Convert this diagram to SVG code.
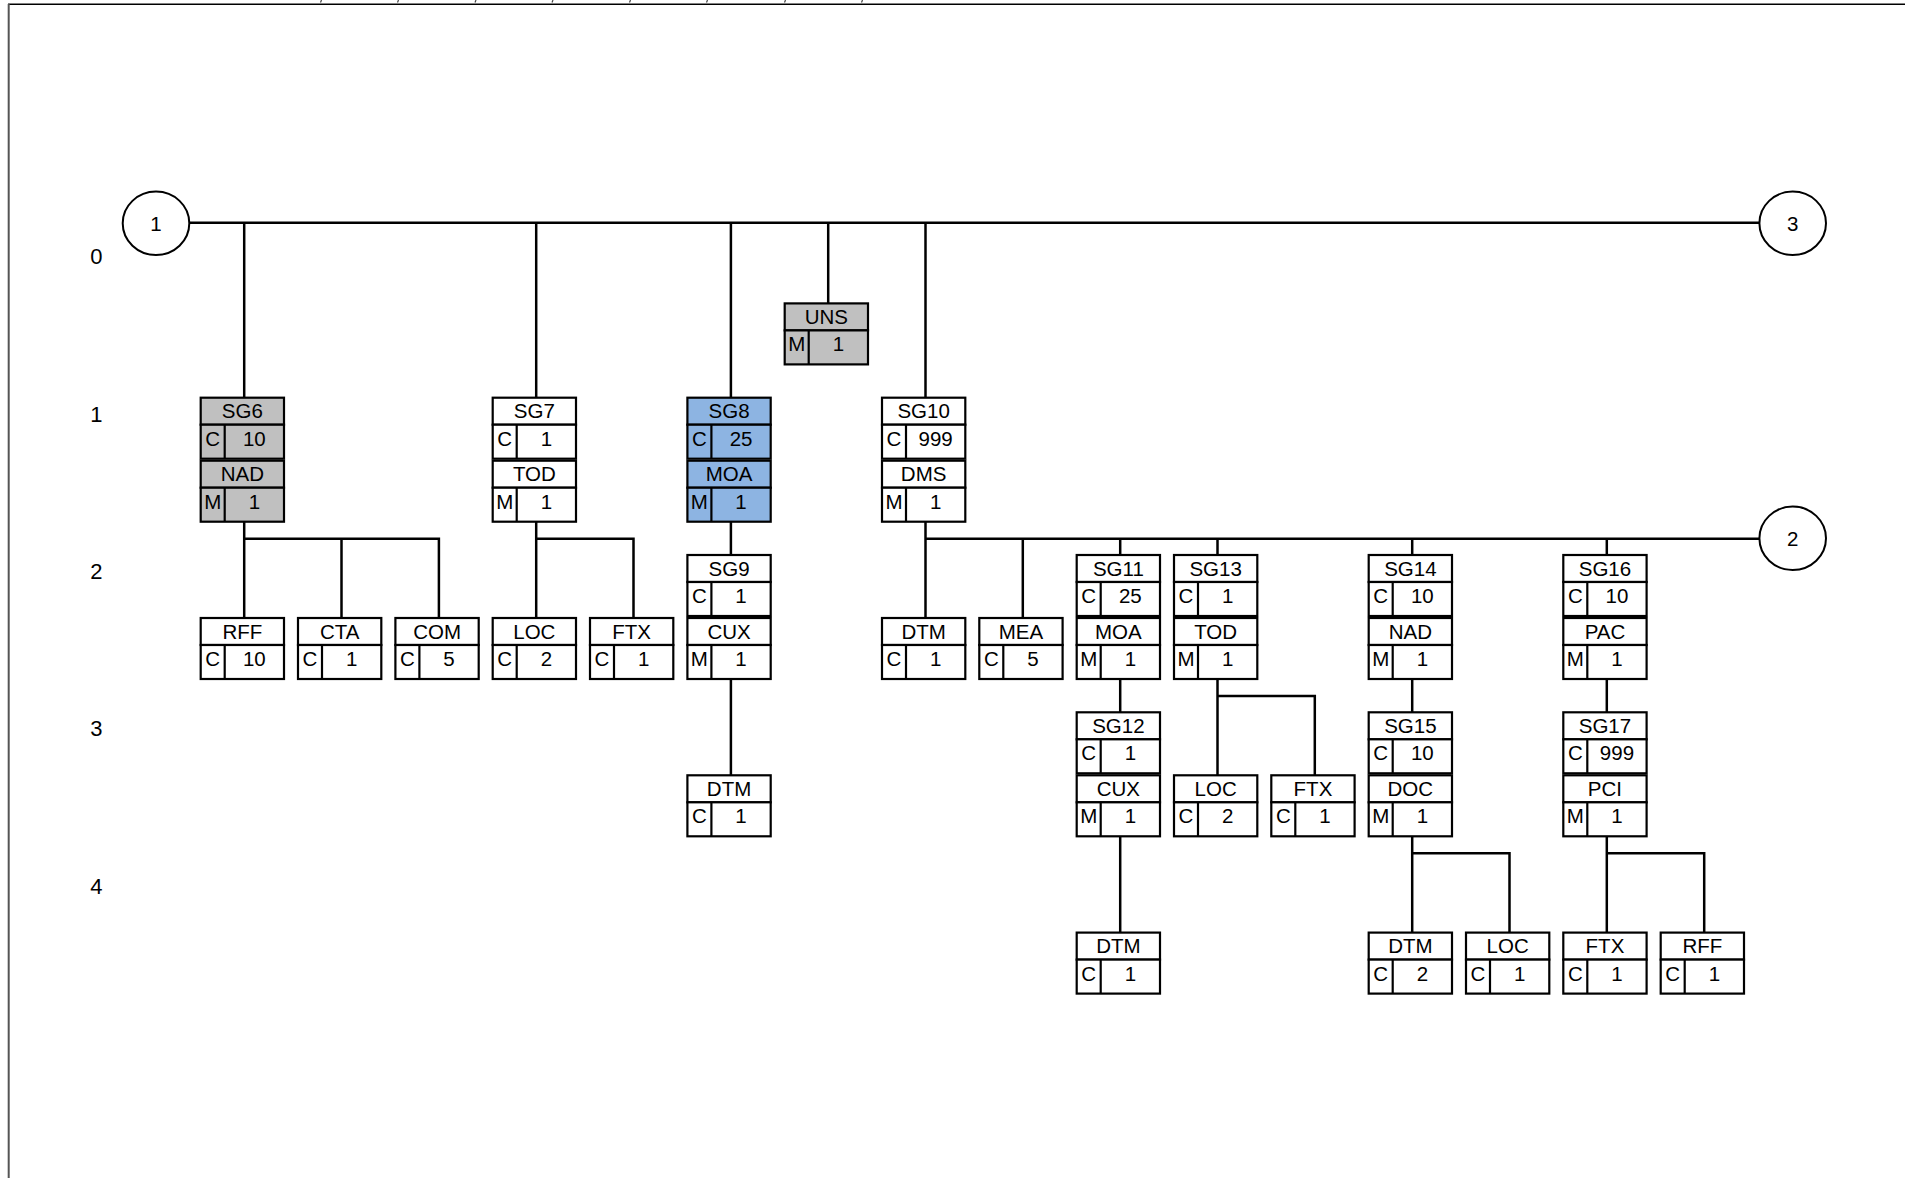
<svg xmlns="http://www.w3.org/2000/svg" width="1905" height="1178" viewBox="0 0 1905 1178">
<style>
.b{stroke:#000;stroke-width:2.2}
use{fill:#fff}
.g use{fill:#c0c0c0}
.u use{fill:#8db4e2}
.d{stroke:#000;stroke-width:2.2}
text{font-family:"Liberation Sans",Arial,sans-serif;font-size:20.5px;fill:#000}
.m{text-anchor:middle}
.lv{font-size:22px;text-anchor:middle}
.c{fill:none;stroke:#000;stroke-width:2.5}
.e{fill:#fff;stroke:#000;stroke-width:2}
</style>
<defs>
<g id="box">
<rect class="b" x="0" y="0" width="83.3" height="27"/>
<rect class="b" x="0" y="27" width="83.3" height="34"/>
<line class="d" x1="24" y1="27" x2="24" y2="61"/>
</g>
</defs>
<rect x="0" y="0" width="1905" height="1178" fill="#fff"/>
<g id="frame">
<line x1="8" y1="4.3" x2="1905" y2="4.3" stroke="#000" stroke-width="1.6"/>
<line x1="8.7" y1="4" x2="8.7" y2="1178" stroke="#555" stroke-width="2"/>
<g stroke="#444" stroke-width="1.2">
<line x1="321.5" y1="0" x2="320.5" y2="2.5"/>
<line x1="398.5" y1="0" x2="397.5" y2="2.5"/>
<line x1="476" y1="0" x2="475" y2="2.5"/>
<line x1="553" y1="0" x2="552" y2="2.5"/>
<line x1="630.5" y1="0" x2="629.5" y2="2.5"/>
<line x1="707.5" y1="0" x2="706.5" y2="2.5"/>
<line x1="785.5" y1="0" x2="784.5" y2="2.5"/>
<line x1="862.5" y1="0" x2="861.5" y2="2.5"/>
</g>
</g>
<g id="levels">
<text class="lv" x="96.3" y="264.3">0</text>
<text class="lv" x="96.3" y="421.6">1</text>
<text class="lv" x="96.3" y="578.9">2</text>
<text class="lv" x="96.3" y="736.2">3</text>
<text class="lv" x="96.3" y="893.5">4</text>
</g>
<g id="connectors" class="c">
<path d="M189,222.7 H1759.3"/>
<path d="M244.2,222.7 V397.7"/>
<path d="M536.2,222.7 V397.7"/>
<path d="M730.9,222.7 V397.7"/>
<path d="M828.2,222.7 V303.4"/>
<path d="M925.5,222.7 V397.7"/>
<path d="M244.2,521.7 V618"/>
<path d="M244.2,538.7 H438.9 V618"/>
<path d="M341.5,538.7 V618"/>
<path d="M536.2,521.7 V618"/>
<path d="M536.2,538.7 H633.5 V618"/>
<path d="M730.9,521.7 V555"/>
<path d="M730.9,679 V775.3"/>
<path d="M925.5,521.7 V618"/>
<path d="M925.5,538.7 H1759.3"/>
<path d="M1022.8,538.7 V618"/>
<path d="M1120.2,538.7 V555"/>
<path d="M1217.5,538.7 V555"/>
<path d="M1412.2,538.7 V555"/>
<path d="M1606.8,538.7 V555"/>
<path d="M1120.2,679 V712.3"/>
<path d="M1120.2,836.3 V932.6"/>
<path d="M1217.5,679 V775.3"/>
<path d="M1217.5,696 H1314.8 V775.3"/>
<path d="M1412.2,679 V712.3"/>
<path d="M1412.2,836.3 V932.6"/>
<path d="M1412.2,853.3 H1509.5 V932.6"/>
<path d="M1606.8,679 V712.3"/>
<path d="M1606.8,836.3 V932.6"/>
<path d="M1606.8,853.3 H1704.2 V932.6"/>
</g>
<g id="c1"><ellipse class="e" cx="156" cy="223.3" rx="33.3" ry="31.7"/><text class="m" x="156" y="230.5">1</text></g>
<g id="c3"><ellipse class="e" cx="1792.7" cy="223.3" rx="33.3" ry="31.7"/><text class="m" x="1792.7" y="230.5">3</text></g>
<g id="c2"><ellipse class="e" cx="1792.7" cy="538.3" rx="33.3" ry="31.7"/><text class="m" x="1792.7" y="545.5">2</text></g>

<g id="UNS" class="g" transform="translate(784.7,303.4)"><use href="#box"/><text class="m" x="41.65" y="20.5">UNS</text><text class="m" x="12" y="48">M</text><text class="m" x="53.65" y="48">1</text></g>

<g id="SG6" class="g" transform="translate(200.7,397.7)"><use href="#box"/><text class="m" x="41.65" y="20.5">SG6</text><text class="m" x="12" y="48">C</text><text class="m" x="53.65" y="48">10</text></g>
<g id="SG7" transform="translate(492.7,397.7)"><use href="#box"/><text class="m" x="41.65" y="20.5">SG7</text><text class="m" x="12" y="48">C</text><text class="m" x="53.65" y="48">1</text></g>
<g id="SG8" class="u" transform="translate(687.4,397.7)"><use href="#box"/><text class="m" x="41.65" y="20.5">SG8</text><text class="m" x="12" y="48">C</text><text class="m" x="53.65" y="48">25</text></g>
<g id="SG10" transform="translate(882,397.7)"><use href="#box"/><text class="m" x="41.65" y="20.5">SG10</text><text class="m" x="12" y="48">C</text><text class="m" x="53.65" y="48">999</text></g>

<g id="NAD1" class="g" transform="translate(200.7,460.7)"><use href="#box"/><text class="m" x="41.65" y="20.5">NAD</text><text class="m" x="12" y="48">M</text><text class="m" x="53.65" y="48">1</text></g>
<g id="TOD1" transform="translate(492.7,460.7)"><use href="#box"/><text class="m" x="41.65" y="20.5">TOD</text><text class="m" x="12" y="48">M</text><text class="m" x="53.65" y="48">1</text></g>
<g id="MOA1" class="u" transform="translate(687.4,460.7)"><use href="#box"/><text class="m" x="41.65" y="20.5">MOA</text><text class="m" x="12" y="48">M</text><text class="m" x="53.65" y="48">1</text></g>
<g id="DMS" transform="translate(882,460.7)"><use href="#box"/><text class="m" x="41.65" y="20.5">DMS</text><text class="m" x="12" y="48">M</text><text class="m" x="53.65" y="48">1</text></g>

<g id="SG9" transform="translate(687.4,555)"><use href="#box"/><text class="m" x="41.65" y="20.5">SG9</text><text class="m" x="12" y="48">C</text><text class="m" x="53.65" y="48">1</text></g>
<g id="SG11" transform="translate(1076.7,555)"><use href="#box"/><text class="m" x="41.65" y="20.5">SG11</text><text class="m" x="12" y="48">C</text><text class="m" x="53.65" y="48">25</text></g>
<g id="SG13" transform="translate(1174,555)"><use href="#box"/><text class="m" x="41.65" y="20.5">SG13</text><text class="m" x="12" y="48">C</text><text class="m" x="53.65" y="48">1</text></g>
<g id="SG14" transform="translate(1368.7,555)"><use href="#box"/><text class="m" x="41.65" y="20.5">SG14</text><text class="m" x="12" y="48">C</text><text class="m" x="53.65" y="48">10</text></g>
<g id="SG16" transform="translate(1563.3,555)"><use href="#box"/><text class="m" x="41.65" y="20.5">SG16</text><text class="m" x="12" y="48">C</text><text class="m" x="53.65" y="48">10</text></g>

<g id="RFF2" transform="translate(200.7,618)"><use href="#box"/><text class="m" x="41.65" y="20.5">RFF</text><text class="m" x="12" y="48">C</text><text class="m" x="53.65" y="48">10</text></g>
<g id="CTA" transform="translate(298,618)"><use href="#box"/><text class="m" x="41.65" y="20.5">CTA</text><text class="m" x="12" y="48">C</text><text class="m" x="53.65" y="48">1</text></g>
<g id="COM" transform="translate(395.4,618)"><use href="#box"/><text class="m" x="41.65" y="20.5">COM</text><text class="m" x="12" y="48">C</text><text class="m" x="53.65" y="48">5</text></g>
<g id="LOC2" transform="translate(492.7,618)"><use href="#box"/><text class="m" x="41.65" y="20.5">LOC</text><text class="m" x="12" y="48">C</text><text class="m" x="53.65" y="48">2</text></g>
<g id="FTX2" transform="translate(590,618)"><use href="#box"/><text class="m" x="41.65" y="20.5">FTX</text><text class="m" x="12" y="48">C</text><text class="m" x="53.65" y="48">1</text></g>
<g id="CUX2" transform="translate(687.4,618)"><use href="#box"/><text class="m" x="41.65" y="20.5">CUX</text><text class="m" x="12" y="48">M</text><text class="m" x="53.65" y="48">1</text></g>
<g id="DTM2" transform="translate(882,618)"><use href="#box"/><text class="m" x="41.65" y="20.5">DTM</text><text class="m" x="12" y="48">C</text><text class="m" x="53.65" y="48">1</text></g>
<g id="MEA" transform="translate(979.3,618)"><use href="#box"/><text class="m" x="41.65" y="20.5">MEA</text><text class="m" x="12" y="48">C</text><text class="m" x="53.65" y="48">5</text></g>
<g id="MOA2" transform="translate(1076.7,618)"><use href="#box"/><text class="m" x="41.65" y="20.5">MOA</text><text class="m" x="12" y="48">M</text><text class="m" x="53.65" y="48">1</text></g>
<g id="TOD2" transform="translate(1174,618)"><use href="#box"/><text class="m" x="41.65" y="20.5">TOD</text><text class="m" x="12" y="48">M</text><text class="m" x="53.65" y="48">1</text></g>
<g id="NAD2" transform="translate(1368.7,618)"><use href="#box"/><text class="m" x="41.65" y="20.5">NAD</text><text class="m" x="12" y="48">M</text><text class="m" x="53.65" y="48">1</text></g>
<g id="PAC" transform="translate(1563.3,618)"><use href="#box"/><text class="m" x="41.65" y="20.5">PAC</text><text class="m" x="12" y="48">M</text><text class="m" x="53.65" y="48">1</text></g>

<g id="SG12" transform="translate(1076.7,712.3)"><use href="#box"/><text class="m" x="41.65" y="20.5">SG12</text><text class="m" x="12" y="48">C</text><text class="m" x="53.65" y="48">1</text></g>
<g id="SG15" transform="translate(1368.7,712.3)"><use href="#box"/><text class="m" x="41.65" y="20.5">SG15</text><text class="m" x="12" y="48">C</text><text class="m" x="53.65" y="48">10</text></g>
<g id="SG17" transform="translate(1563.3,712.3)"><use href="#box"/><text class="m" x="41.65" y="20.5">SG17</text><text class="m" x="12" y="48">C</text><text class="m" x="53.65" y="48">999</text></g>

<g id="DTM3" transform="translate(687.4,775.3)"><use href="#box"/><text class="m" x="41.65" y="20.5">DTM</text><text class="m" x="12" y="48">C</text><text class="m" x="53.65" y="48">1</text></g>
<g id="CUX3" transform="translate(1076.7,775.3)"><use href="#box"/><text class="m" x="41.65" y="20.5">CUX</text><text class="m" x="12" y="48">M</text><text class="m" x="53.65" y="48">1</text></g>
<g id="LOC3" transform="translate(1174,775.3)"><use href="#box"/><text class="m" x="41.65" y="20.5">LOC</text><text class="m" x="12" y="48">C</text><text class="m" x="53.65" y="48">2</text></g>
<g id="FTX3" transform="translate(1271.3,775.3)"><use href="#box"/><text class="m" x="41.65" y="20.5">FTX</text><text class="m" x="12" y="48">C</text><text class="m" x="53.65" y="48">1</text></g>
<g id="DOC" transform="translate(1368.7,775.3)"><use href="#box"/><text class="m" x="41.65" y="20.5">DOC</text><text class="m" x="12" y="48">M</text><text class="m" x="53.65" y="48">1</text></g>
<g id="PCI" transform="translate(1563.3,775.3)"><use href="#box"/><text class="m" x="41.65" y="20.5">PCI</text><text class="m" x="12" y="48">M</text><text class="m" x="53.65" y="48">1</text></g>

<g id="DTM4a" transform="translate(1076.7,932.6)"><use href="#box"/><text class="m" x="41.65" y="20.5">DTM</text><text class="m" x="12" y="48">C</text><text class="m" x="53.65" y="48">1</text></g>
<g id="DTM4b" transform="translate(1368.7,932.6)"><use href="#box"/><text class="m" x="41.65" y="20.5">DTM</text><text class="m" x="12" y="48">C</text><text class="m" x="53.65" y="48">2</text></g>
<g id="LOC4" transform="translate(1466,932.6)"><use href="#box"/><text class="m" x="41.65" y="20.5">LOC</text><text class="m" x="12" y="48">C</text><text class="m" x="53.65" y="48">1</text></g>
<g id="FTX4" transform="translate(1563.3,932.6)"><use href="#box"/><text class="m" x="41.65" y="20.5">FTX</text><text class="m" x="12" y="48">C</text><text class="m" x="53.65" y="48">1</text></g>
<g id="RFF4" transform="translate(1660.7,932.6)"><use href="#box"/><text class="m" x="41.65" y="20.5">RFF</text><text class="m" x="12" y="48">C</text><text class="m" x="53.65" y="48">1</text></g>
</svg>
